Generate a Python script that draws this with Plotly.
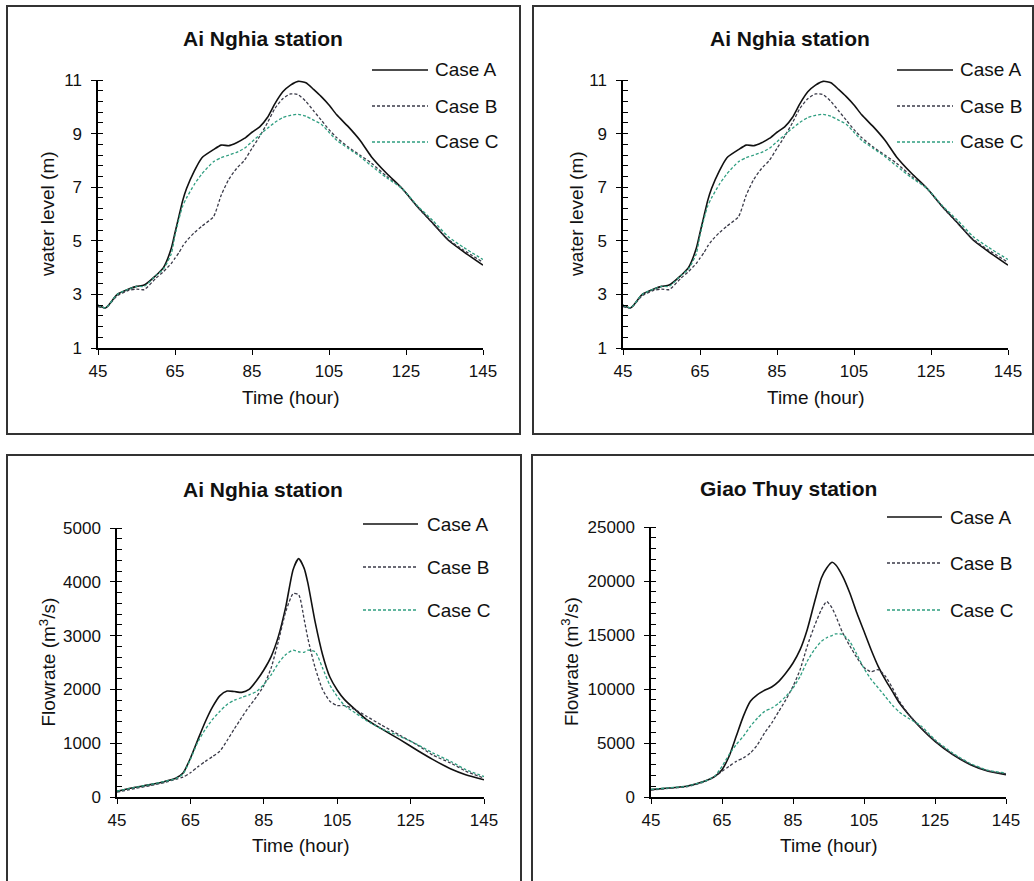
import plotly.graph_objects as go

W, H = 1034, 881

# ---------------- data ----------------
time_wl = [45, 47, 50, 53, 55, 57, 60, 62, 64, 65, 66, 67, 68, 70, 72, 75, 77, 79, 81, 83, 85,
           87, 89, 91, 93, 95, 97, 99, 101, 103, 105, 107, 110, 113, 116, 120, 124, 128, 132,
           136, 140, 145]
wl_case_a = [2.6, 2.5, 3.0, 3.2, 3.3, 3.35, 3.7, 4.0, 4.7, 5.3, 5.9, 6.5, 6.95, 7.6, 8.1, 8.4,
             8.57, 8.55, 8.66, 8.82, 9.05, 9.25, 9.6, 10.13, 10.56, 10.81, 10.95, 10.9, 10.65,
             10.38, 10.07, 9.7, 9.26, 8.76, 8.14, 7.51, 6.95, 6.27, 5.65, 5.02, 4.59, 4.09]
wl_case_b = [2.55, 2.5, 2.95, 3.15, 3.2, 3.18, 3.6, 3.85, 4.15, 4.35, 4.55, 4.8, 5.0, 5.3, 5.55,
             5.9, 6.7, 7.3, 7.7, 8.0, 8.45, 8.9, 9.4, 9.95, 10.3, 10.48, 10.45, 10.2, 9.85, 9.5,
             9.15, 8.85, 8.5, 8.2, 7.9, 7.4, 6.95, 6.25, 5.65, 5.05, 4.65, 4.2]
wl_case_c = [2.6, 2.5, 3.0, 3.2, 3.3, 3.3, 3.7, 3.95, 4.5, 5.2, 5.8, 6.3, 6.6, 7.1, 7.5, 7.95,
             8.1, 8.2, 8.3, 8.45, 8.7, 8.95, 9.2, 9.42, 9.6, 9.68, 9.72, 9.65, 9.5, 9.35, 9.05,
             8.75, 8.45, 8.15, 7.8, 7.35, 6.95, 6.3, 5.75, 5.15, 4.75, 4.3]

time_an = [45, 50, 54, 58, 61, 63, 65, 67, 69, 71, 73, 75, 77, 79, 81, 83, 85, 87, 89, 91, 93,
           94.5, 96, 97, 99, 101, 103, 105, 107, 110, 113, 117, 122, 127, 131, 136, 140, 145]
q_an_case_a = [105, 180, 230, 290, 350, 445, 720, 1060, 1390, 1670, 1880, 1970, 1960, 1945,
               2000, 2160, 2360, 2610, 2990, 3540, 4230, 4430, 4250, 3980, 3250, 2650, 2230,
               1990, 1810, 1620, 1440, 1270, 1070, 860, 700, 520, 415, 320]
q_an_case_b = [90, 160, 210, 270, 330, 370, 450, 560, 660, 750, 850, 1050, 1270, 1480, 1680,
               1860, 2070, 2400, 2900, 3450, 3780, 3760, 3300, 2950, 2400, 2000, 1780, 1700,
               1700, 1620, 1500, 1340, 1150, 960, 780, 630, 480, 350]
q_an_case_c = [110, 180, 230, 290, 340, 430, 700, 1020, 1250, 1440, 1590, 1720, 1800, 1850,
               1900, 1960, 2090, 2270, 2490, 2650, 2730, 2700, 2690, 2730, 2700, 2400, 2080,
               1870, 1700, 1560, 1420, 1270, 1130, 970, 820, 660, 510, 380]

time_gt = [45, 50, 55, 60, 63, 65, 67, 69, 71, 73, 75, 77, 79, 81, 83, 85, 87, 89, 91, 93,
           94.5, 96, 97, 99, 101, 103, 105, 107, 109, 111, 113, 115, 118, 121, 125, 130, 135,
           140, 145]
q_gt_case_a = [680, 830, 990, 1450, 1910, 2530, 3770, 5620, 7470, 8860, 9480, 9880, 10190,
               10710, 11480, 12410, 13640, 15490, 17960, 20280, 21200, 21730, 21510, 20430,
               18890, 17040, 15340, 13640, 12100, 10860, 9780, 8700, 7470, 6390, 5150, 3920,
               2990, 2380, 2070]
q_gt_case_b = [650, 800, 950, 1400, 1910, 2380, 2840, 3300, 3610, 4070, 4850, 5930, 6850,
               7930, 9010, 10250, 11790, 13950, 15800, 17350, 18100, 17500, 16800, 15200,
               14000, 12900, 12000, 11600, 11800, 11200, 10100, 8860, 7470, 6450, 5200, 3970,
               3030, 2420, 2150]
q_gt_case_c = [700, 850, 1000, 1450, 1950, 2840, 3920, 4850, 5620, 6540, 7310, 7930, 8240,
               8700, 9320, 10090, 11170, 12560, 13640, 14410, 14750, 14950, 15100, 15050,
               14400, 13200, 11900, 10900, 10100, 9300, 8500, 7850, 7200, 6600, 5300, 4070,
               3090, 2470, 2220]

case_names = ["Case A", "Case B", "Case C"]
x_ticks = [45, 65, 85, 105, 125, 145]

panel_titles = ["Ai Nghia station", "Ai Nghia station", "Ai Nghia station", "Giao Thuy station"]
y_titles = ["water level (m)", "water level (m)", "Flowrate (m<sup>3</sup>/s)",
            "Flowrate (m<sup>3</sup>/s)"]
x_title = "Time (hour)"

# ---------------- styles ----------------
FONT = "Liberation Sans, Arial, sans-serif"
styles = [
    dict(color="#111111", width=1.6, dash="solid"),
    dict(color="#3a3a48", width=1.3, dash="3px,2px"),
    dict(color="#2f9e80", width=1.3, dash="3px,2px"),
]

# panel layout in pixels: plot area (x0, x1, ytop, ybottom)
plots_px = [
    (98, 483, 80, 348),
    (623, 1008, 80, 348),
    (117, 484, 528, 797),
    (651, 1006, 527, 797),
]
frames_px = [(7, 520, 6, 434), (533, 1033, 6, 434), (7, 521, 455, 900), (532, 1040, 455, 900)]
title_px = [(263, 39), (790, 39), (263, 489), (788, 488)]
ytitle_x = [48, 577, 47, 570]
xtitle_y = [397, 397, 845, 845]
legend_px = [  # line x0, line x1, text x, row ys
    (372, 428, 433, [70, 106, 142]),
    (897, 953, 958, [70, 106, 142]),
    (363, 418, 425, [524, 567, 610]),
    (887, 942, 948, [517, 563, 610]),
]

yaxes_cfg = [
    dict(range=[1, 11], dtick=2, tick0=1, minor_dtick=0.4),
    dict(range=[1, 11], dtick=2, tick0=1, minor_dtick=0.4),
    dict(range=[0, 5000], dtick=1000, tick0=0, minor_dtick=200),
    dict(range=[0, 25000], dtick=5000, tick0=0, minor_dtick=1000),
]

series = [
    (time_wl, [wl_case_a, wl_case_b, wl_case_c]),
    (time_wl, [wl_case_a, wl_case_b, wl_case_c]),
    (time_an, [q_an_case_a, q_an_case_b, q_an_case_c]),
    (time_gt, [q_gt_case_a, q_gt_case_b, q_gt_case_c]),
]


def px(x):
    return x / W


def py(y):
    return 1 - y / H


fig = go.Figure()
shapes = []
annotations = []

for i in range(4):
    n = "" if i == 0 else str(i + 1)
    xa, ya = "x" + n, "y" + n
    t, vals = series[i]
    for k in range(3):
        fig.add_trace(go.Scatter(
            x=t, y=vals[k], mode="lines", name=case_names[k], showlegend=False,
            line=dict(color=styles[k]["color"], width=styles[k]["width"],
                      dash=styles[k]["dash"], shape="spline", smoothing=0.6),
            xaxis=xa, yaxis=ya, hoverinfo="skip",
        ))
    x0, x1, yt, yb = plots_px[i]
    cfg = yaxes_cfg[i]
    fig.layout["xaxis" + n] = dict(
        domain=[px(x0), px(x1)], anchor=ya, range=[45, 145], tickvals=x_ticks,
        ticks="outside", ticklen=5, tickwidth=1.3, tickcolor="black", automargin=False,
        showline=True, linecolor="black", linewidth=1.5, showgrid=False, zeroline=False,
        tickfont=dict(family=FONT, size=17, color="#111"), ticklabelstandoff=2,
    )
    fig.layout["yaxis" + n] = dict(
        domain=[py(yb), py(yt)], anchor=xa, range=cfg["range"], dtick=cfg["dtick"],
        tick0=cfg["tick0"], tickformat="d", ticks="outside", ticklen=5, tickwidth=1.3,
        tickcolor="black", automargin=False,
        minor=dict(dtick=cfg["minor_dtick"], tick0=cfg["tick0"], ticks="inside", ticklen=5,
                   tickwidth=1, tickcolor="black", showgrid=False),
        showline=True, linecolor="black", linewidth=1.5, showgrid=False, zeroline=False,
        tickfont=dict(family=FONT, size=17, color="#111"), ticklabelstandoff=6,
    )
    # frame
    fx0, fx1, fy0, fy1 = frames_px[i]
    shapes.append(dict(type="rect", xref="paper", yref="paper", x0=px(fx0), x1=px(fx1),
                       y0=py(fy1), y1=py(fy0), line=dict(color="#333333", width=2),
                       fillcolor="rgba(0,0,0,0)", layer="below"))
    # title
    tx, ty = title_px[i]
    annotations.append(dict(text="<b>%s</b>" % panel_titles[i], x=px(tx), y=py(ty),
                            xref="paper", yref="paper", showarrow=False, xanchor="center",
                            yanchor="middle", font=dict(family=FONT, size=21, color="#111")))
    # axis titles
    annotations.append(dict(text=x_title, x=px((x0 + x1) / 2), y=py(xtitle_y[i]),
                            xref="paper", yref="paper", showarrow=False, xanchor="center",
                            yanchor="middle", font=dict(family=FONT, size=19, color="#111")))
    annotations.append(dict(text=y_titles[i], x=px(ytitle_x[i]), y=py((yt + yb) / 2),
                            xref="paper", yref="paper", showarrow=False, xanchor="center",
                            yanchor="middle", textangle=-90,
                            font=dict(family=FONT, size=19, color="#111")))
    # legend
    lx0, lx1, ltx, rows = legend_px[i]
    for k in range(3):
        shapes.append(dict(type="line", xref="paper", yref="paper", x0=px(lx0), x1=px(lx1),
                           y0=py(rows[k]), y1=py(rows[k]),
                           line=dict(color=styles[k]["color"], width=styles[k]["width"],
                                     dash=styles[k]["dash"])))
        annotations.append(dict(text=case_names[k], x=px(ltx), y=py(rows[k]), xref="paper",
                                yref="paper", showarrow=False, xanchor="left",
                                yanchor="middle", font=dict(family=FONT, size=19, color="#111")))

fig.update_layout(
    width=W, height=H, margin=dict(l=0, r=0, t=0, b=0, autoexpand=False),
    paper_bgcolor="white", plot_bgcolor="white", showlegend=False,
    shapes=shapes, annotations=annotations,
)

fig.write_html(
    "out.html",
    config=dict(displayModeBar=False),
    post_script="document.body.style.margin='0px';document.body.style.padding='0px';"
                "document.body.style.overflow='hidden';",
)
